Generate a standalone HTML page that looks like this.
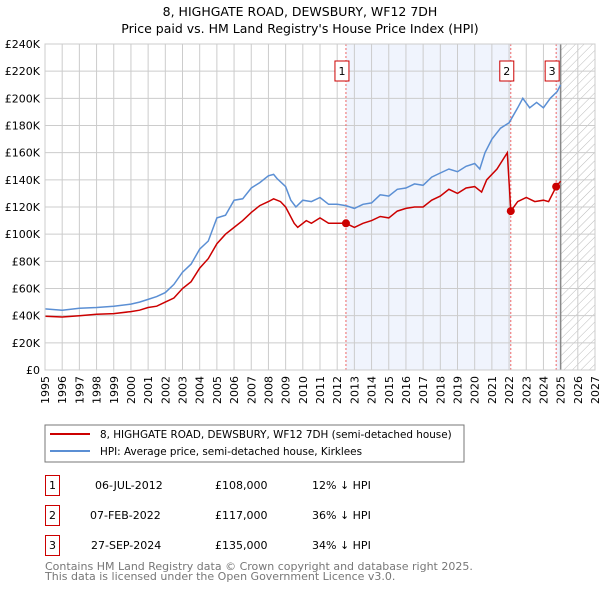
<!DOCTYPE html>
<html><head><meta charset="utf-8"><style>
body{margin:0;background:#fff;font-family:"DejaVu Sans","Liberation Sans",sans-serif;}
svg text{font-family:"DejaVu Sans","Liberation Sans",sans-serif;}
</style></head><body>
<svg id="c" width="600" height="590" xmlns="http://www.w3.org/2000/svg">
<defs><pattern id="h" width="6" height="6" patternUnits="userSpaceOnUse" patternTransform="rotate(45)"><line x1="0" y1="0" x2="0" y2="6" stroke="#bbb" stroke-width="1"/></pattern></defs>
<text x="300" y="16" text-anchor="middle" font-size="12.5">8, HIGHGATE ROAD, DEWSBURY, WF12 7DH</text>
<text x="300" y="33" text-anchor="middle" font-size="12.5">Price paid vs. HM Land Registry's House Price Index (HPI)</text>
<g id="plot"></g>
<rect x="45" y="425" width="419" height="37" fill="#fff" stroke="#777"/>
<line x1="50" y1="434" x2="90" y2="434" stroke="#c00" stroke-width="2"/>
<text x="100" y="438" font-size="10.4">8, HIGHGATE ROAD, DEWSBURY, WF12 7DH (semi-detached house)</text>
<line x1="50" y1="451" x2="90" y2="451" stroke="#5b8fd4" stroke-width="2"/>
<text x="100" y="455" font-size="10.4">HPI: Average price, semi-detached house, Kirklees</text>
<g font-size="11">
<rect x="45.5" y="475.5" width="14" height="20" fill="#fff" stroke="#c00"/><text x="52.5" y="489" text-anchor="middle">1</text>
<text x="95" y="489">06-JUL-2012</text><text x="215" y="489">£108,000</text><text x="312" y="489">12% ↓ HPI</text>
<rect x="45.5" y="505.5" width="14" height="20" fill="#fff" stroke="#c00"/><text x="52.5" y="519" text-anchor="middle">2</text>
<text x="90" y="519">07-FEB-2022</text><text x="215" y="519">£117,000</text><text x="312" y="519">36% ↓ HPI</text>
<rect x="45.5" y="535.5" width="14" height="20" fill="#fff" stroke="#c00"/><text x="52.5" y="549" text-anchor="middle">3</text>
<text x="91" y="549">27-SEP-2024</text><text x="215" y="549">£135,000</text><text x="312" y="549">34% ↓ HPI</text>
</g>
<text x="45" y="570" font-size="11" fill="#777">Contains HM Land Registry data © Crown copyright and database right 2025.</text>
<text x="45" y="580" font-size="11" fill="#777">This data is licensed under the Open Government Licence v3.0.</text>
</svg>
<script>
const hpiX=[1995,1996,1997,1998,1999,2000,2000.5,2001,2001.5,2002,2002.5,2003,2003.5,2004,2004.5,2005,2005.5,2006,2006.5,2007,2007.5,2008,2008.3,2008.5,2009,2009.3,2009.6,2010,2010.5,2011,2011.5,2012,2012.5,2013,2013.5,2014,2014.5,2015,2015.5,2016,2016.5,2017,2017.5,2018,2018.5,2019,2019.5,2020,2020.3,2020.6,2021,2021.5,2022,2022.5,2022.8,2023.2,2023.6,2024,2024.4,2024.8,2025];
const hpiV=[45,44,45.5,46,47,48.5,50,52,54,57,63,72,78,89,95,112,114,125,126,134,138,143,144,141,135,125,120,125,124,127,122,122,121,119,122,123,129,128,133,134,137,136,142,145,148,146,150,152,148,160,170,178,182,193,200,193,197,193,200,205,210];
const ppX=[1995,1996,1997,1998,1999,2000,2000.5,2001,2001.5,2002,2002.5,2003,2003.5,2004,2004.5,2005,2005.5,2006,2006.5,2007,2007.5,2008,2008.3,2008.7,2009,2009.5,2009.7,2010.2,2010.5,2011,2011.5,2012,2012.5,2013,2013.5,2014,2014.5,2015,2015.5,2016,2016.5,2017,2017.5,2018,2018.5,2019,2019.5,2020,2020.4,2020.7,2021.3,2021.9,2022.1,2022.5,2023,2023.5,2024,2024.3,2024.74,2025];
const ppV=[39.5,39,40,41,41.5,43,44,46,47,50,53,60,65,75,82,93,100,105,110,116,121,124,126,124,120,108,105,110,108,112,108,108,108,105,108,110,113,112,117,119,120,120,125,128,133,130,134,135,131,140,148,160,117,124,127,124,125,124,135,139];
const saleX=[2012.51,2022.1,2024.74];
const saleV=[108,117,135];
const saleLabels=["1","2","3"];
const yTicks=[0,20,40,60,80,100,120,140,160,180,200,220,240];
const yLabels=["£0","£20K","£40K","£60K","£80K","£100K","£120K","£140K","£160K","£180K","£200K","£220K","£240K"];
const xTicks=[1995,1996,1997,1998,1999,2000,2001,2002,2003,2004,2005,2006,2007,2008,2009,2010,2011,2012,2013,2014,2015,2016,2017,2018,2019,2020,2021,2022,2023,2024,2025,2026,2027];
const X0=45,X1=595,Y0=370,Y1=44;
const sx=v=>X0+(v-1995)*(X1-X0)/32;
const sy=v=>Y0-v*(Y0-Y1)/240;
const NS="http://www.w3.org/2000/svg",g=document.getElementById('plot');
function mk(t,a){const e=document.createElementNS(NS,t);for(const k in a)e.setAttribute(k,a[k]);g.appendChild(e);return e;}
let e;
e=mk('rect',{x:sx(saleX[0]),y:Y1,width:sx(saleX[1])-sx(saleX[0]),height:Y0-Y1,fill:'#f0f4fd'});


e=mk('rect',{x:sx(saleX[2]),y:Y1,width:sx(2025)-sx(saleX[2]),height:Y0-Y1,fill:'#f0f4fd'});


e=mk('rect',{x:sx(2025),y:Y1,width:X1-sx(2025),height:Y0-Y1,fill:'url(#h)'});


xTicks.forEach(t=>{e=mk('line',{x1:sx(t),x2:sx(t),y1:Y1,y2:Y0,stroke:'#ccc'});


const tx=mk('text',{x:0,y:0,'font-size':11,'text-anchor':'end',transform:`translate(${sx(t)+4},${Y0+6}) rotate(-90)`});tx.textContent=t;

});
yTicks.forEach((t,i)=>{e=mk('line',{x1:X0,x2:X1,y1:sy(t),y2:sy(t),stroke:'#ccc'});


const tx=mk('text',{x:40,y:sy(t)+4,'font-size':11,'text-anchor':'end'});tx.textContent=yLabels[i];

});
e=mk('line',{x1:sx(2025),x2:sx(2025),y1:Y1,y2:Y0,stroke:'#888','stroke-width':1.5});


saleX.forEach((s,i)=>{e=mk('line',{x1:sx(s),x2:sx(s),y1:Y1,y2:Y0,stroke:'#e66','stroke-dasharray':'2,2'});

});
function pts(xs,vs){return xs.map((x,i)=>sx(x).toFixed(1)+','+sy(vs[i]).toFixed(1)).join(' ');}
e=mk('polyline',{points:pts(hpiX,hpiV),fill:'none',stroke:'#5b8fd4','stroke-width':1.5});


e=mk('polyline',{points:pts(ppX,ppV),fill:'none',stroke:'#c00','stroke-width':1.5});


saleX.forEach((s,i)=>{e=mk('circle',{cx:sx(s),cy:sy(saleV[i]),r:4,fill:'#c00'});


e=mk('rect',{x:sx(s)-11,y:61,width:14,height:20,fill:'#fff',stroke:'#c00'});


const tx=mk('text',{x:sx(s)-4,y:75,'font-size':11,'text-anchor':'middle'});tx.textContent=saleLabels[i];

});
e=mk('rect',{x:X0,y:Y1,width:X1-X0,height:Y0-Y1,fill:'none',stroke:'#ccc'});


</script>
</body></html>
